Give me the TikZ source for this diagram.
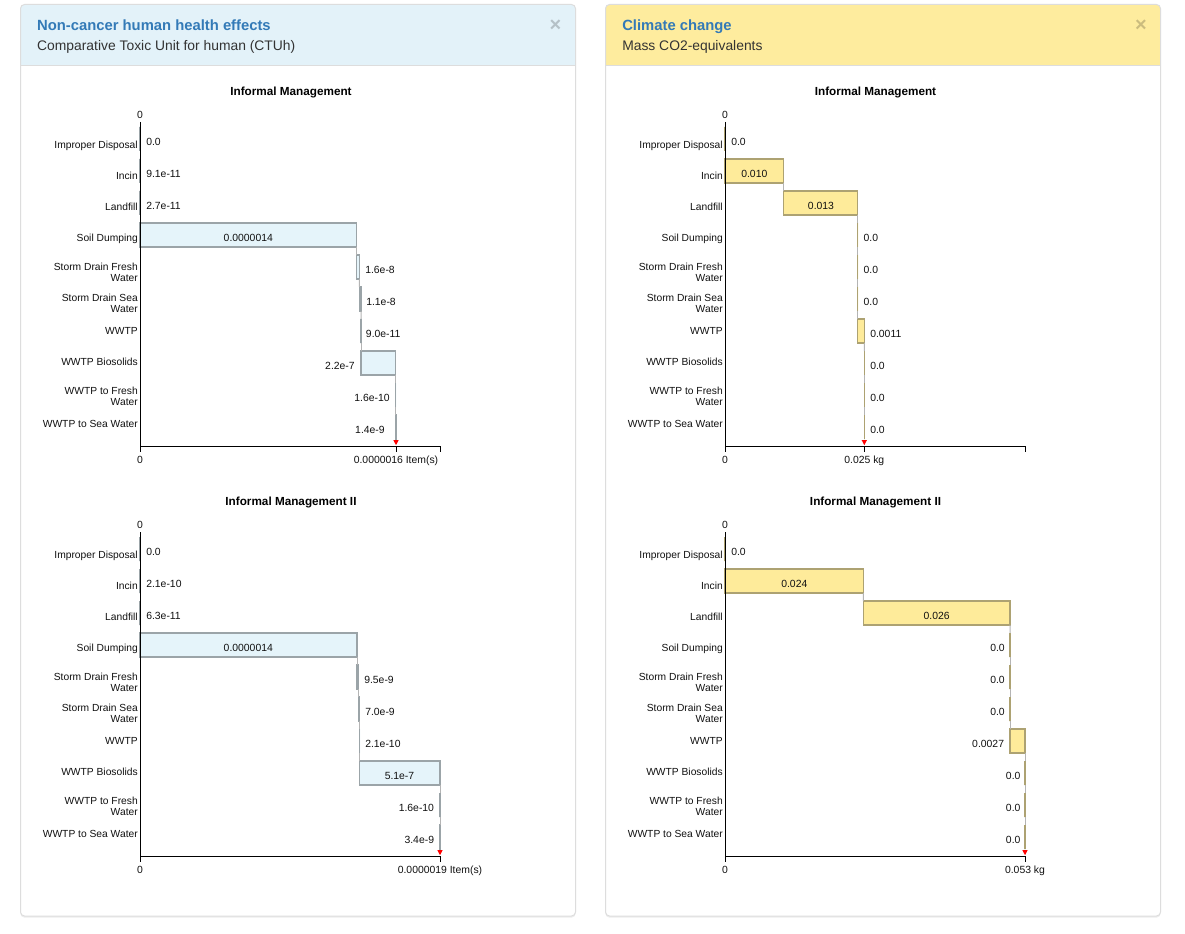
\documentclass[tikz,border=0pt]{standalone}
\usepackage{fontspec}
\setmainfont{Liberation Sans}
\definecolor{hdrblue}{HTML}{E3F2F9}
\definecolor{hdryel}{HTML}{FEEC9E}
\definecolor{ttlblue}{HTML}{337AB7}
\definecolor{subtxt}{HTML}{333333}
\definecolor{pbord}{HTML}{DDDDDD}
\definecolor{barLfill}{HTML}{E5F4FA}
\definecolor{barLdraw}{HTML}{9BA4A8}
\definecolor{barRfill}{HTML}{FEEB9A}
\definecolor{barRdraw}{HTML}{ADA272}
\definecolor{connc}{HTML}{B4B4B4}
\definecolor{lbltxt}{HTML}{111111}
\tikzset{
  cat/.style={font=\fontsize{7.7pt}{8.25pt}\selectfont, inner sep=0pt, text=lbltxt, align=right},
  val/.style={font=\fontsize{7.8pt}{9pt}\selectfont, inner sep=0pt, text=lbltxt},
  ctitle/.style={font=\bfseries\fontsize{8.8pt}{10pt}\selectfont, inner sep=0pt, text=black},
  ptitle/.style={font=\bfseries\fontsize{11.1pt}{13pt}\selectfont, inner sep=0pt, text=ttlblue},
  psub/.style={font=\fontsize{10.4pt}{12pt}\selectfont, inner sep=0pt, text=subtxt},
  pclose/.style={font=\bfseries\fontsize{15pt}{16pt}\selectfont, inner sep=0pt, text=black, text opacity=0.2},
  barL/.style={draw=barLdraw, fill=barLfill, line width=0.9pt, inner sep=0pt, outer sep=0pt, minimum height=18pt, anchor=north west},
  barR/.style={draw=barRdraw, fill=barRfill, line width=0.9pt, inner sep=0pt, outer sep=0pt, minimum height=18pt, anchor=north west},
  conn/.style={draw=connc, line width=0.75pt},
  axisln/.style={draw=black, line width=0.75pt},
}
% bar: name, style, x start, x end, row centre y
\newcommand{\wfbar}[5]{\node[#2, minimum width={(#4-(#3))*0.75pt}] (#1) at (#3,#5-12) {};}
% value label: name, anchor, x, y, text
\newcommand{\vlab}[5]{\node[val,anchor=#2] (#1) at (#3,#4) {#5};}
\newcommand{\catlabels}[1]{%
  \node[cat,anchor=base east] (#1k0) at (138,148.8) {Improper Disposal};
  \node[cat,anchor=base east] (#1k1) at (138,179.8) {Incin};
  \node[cat,anchor=base east] (#1k2) at (138,210.8) {Landfill};
  \node[cat,anchor=base east] (#1k3) at (138,241.8) {Soil Dumping};
  \node[cat,anchor=east] (#1k4) at (138,272) {Storm Drain Fresh\\Water};
  \node[cat,anchor=east] (#1k5) at (138,303) {Storm Drain Sea\\Water};
  \node[cat,anchor=base east] (#1k6) at (138,334.8) {WWTP};
  \node[cat,anchor=base east] (#1k7) at (138,365.8) {WWTP Biosolids};
  \node[cat,anchor=east] (#1k8) at (138,396) {WWTP to Fresh\\Water};
  \node[cat,anchor=base east] (#1k9) at (138,427.8) {WWTP to Sea Water};
}
\newcommand{\connectors}[1]{%
  \foreach \i [evaluate=\i as \j using int(\i+1)] in {0,...,8}
    {\draw[conn] (#1\i.south east) -- (#1\j.north west);}
}
\newcommand{\chartaxes}[3]{%
  \draw[axisln] (140,122) -- (140,446) -- (440,446);
  \draw[axisln] (140,446) -- (140,452) (#2,446) -- (#2,452) (440,446) -- (440,452);
  \node[val,anchor=base] (#1z0) at (140,118.5) {0};
  \node[val,anchor=base] (#1z1) at (140,463.2) {0};
  \node[val,anchor=base] (#1zt) at (#2,463.2) {#3};
  \fill[red] (#2-2.6,440.2) -- (#2+2.6,440.2) -- (#2,445.2) -- cycle;
}
\begin{document}
\begin{tikzpicture}[x=0.75pt,y=-0.75pt]
\useasboundingbox (0,0) rectangle (1185,934);
\fill[white] (0,0) rectangle (1185,934);

% ---------- panels ----------
\foreach \px/\hc in {20.5/hdrblue, 605.5/hdryel}{
  \fill[black!7, rounded corners=3pt] (\px,5.5) rectangle (\px+555,917.6);
  \fill[white, rounded corners=3pt] (\px,4.5) rectangle (\px+555,916);
  \fill[\hc, rounded corners=3pt] (\px,4.5) rectangle (\px+555,65.5);
  \fill[\hc] (\px,55) rectangle (\px+555,65.5);
  \draw[pbord, line width=0.75pt] (\px,65.5) -- (\px+555,65.5);
  \draw[pbord, line width=0.75pt, rounded corners=3pt] (\px,4.5) rectangle (\px+555,916);
}
\node[ptitle, anchor=base west] (t1) at (36.9,30.6) {Non-cancer human health effects};
\node[psub, anchor=base west] (s1) at (36.9,51) {Comparative Toxic Unit for human (CTUh)};
\node[pclose] (x1) at (555.5,25.5) {×};
\node[ptitle, anchor=base west] (t2) at (622,30.6) {Climate change};
\node[psub, anchor=base west] (s2) at (622,51) {Mass CO2-equivalents};
\node[pclose] (x2) at (1141,25.5) {×};

% ---------- top left ----------
\begin{scope}
\node[ctitle, anchor=base] (aT) at (291,95.5) {Informal Management};
\catlabels{a}
\wfbar{a0}{barL}{140}{140}{139}
\wfbar{a1}{barL}{140}{140}{171}
\wfbar{a2}{barL}{140}{140}{203}
\wfbar{a3}{barL}{140}{356.7}{235}
\wfbar{a4}{barL}{356.7}{359.3}{267}
\wfbar{a5}{barL}{359.3}{361}{299}
\wfbar{a6}{barL}{361}{361}{331}
\wfbar{a7}{barL}{361}{395.7}{363}
\wfbar{a8}{barL}{395.7}{395.7}{395}
\wfbar{a9}{barL}{395.7}{396}{427}
\connectors{a}
\vlab{av0}{base west}{146}{145.2}{0.0}
\vlab{av1}{base west}{146}{177.2}{9.1e-11}
\vlab{av2}{base west}{146}{209.2}{2.7e-11}
\vlab{av3}{base}{248.3}{241.2}{0.0000014}
\vlab{av4}{base west}{365}{273.2}{1.6e-8}
\vlab{av5}{base west}{366}{305.2}{1.1e-8}
\vlab{av6}{base west}{365.7}{337.2}{9.0e-11}
\vlab{av7}{base east}{355}{369.2}{2.2e-7}
\vlab{av8}{base east}{390}{401.2}{1.6e-10}
\vlab{av9}{base east}{385}{433.2}{1.4e-9}
\chartaxes{a}{396}{0.0000016 Item(s)}
\end{scope}

% ---------- top right ----------
\begin{scope}[shift={(585,0)}]
\node[ctitle, anchor=base] (bT) at (290.5,95.5) {Informal Management};
\catlabels{b}
\wfbar{b0}{barR}{140}{140}{139}
\wfbar{b1}{barR}{140}{198.7}{171}
\wfbar{b2}{barR}{198.7}{272.7}{203}
\wfbar{b3}{barR}{272.7}{272.7}{235}
\wfbar{b4}{barR}{272.7}{272.7}{267}
\wfbar{b5}{barR}{272.7}{272.7}{299}
\wfbar{b6}{barR}{272.7}{279.3}{331}
\wfbar{b7}{barR}{279.3}{279.3}{363}
\wfbar{b8}{barR}{279.3}{279.3}{395}
\wfbar{b9}{barR}{279.3}{279.3}{427}
\connectors{b}
\vlab{bv0}{base west}{146}{145.2}{0.0}
\vlab{bv1}{base}{169.3}{177.2}{0.010}
\vlab{bv2}{base}{236}{209.2}{0.013}
\vlab{bv3}{base west}{278.3}{241.2}{0.0}
\vlab{bv4}{base west}{278.3}{273.2}{0.0}
\vlab{bv5}{base west}{278.3}{305.2}{0.0}
\vlab{bv6}{base west}{285}{337.2}{0.0011}
\vlab{bv7}{base west}{285}{369.2}{0.0}
\vlab{bv8}{base west}{285}{401.2}{0.0}
\vlab{bv9}{base west}{285}{433.2}{0.0}
\chartaxes{b}{279.3}{0.025 kg}
\end{scope}

% ---------- bottom left ----------
\begin{scope}[shift={(0,410)}]
\node[ctitle, anchor=base] (cT) at (291,95.5) {Informal Management II};
\catlabels{c}
\wfbar{c0}{barL}{140}{140}{139}
\wfbar{c1}{barL}{140}{140}{171}
\wfbar{c2}{barL}{140}{140}{203}
\wfbar{c3}{barL}{140}{357}{235}
\wfbar{c4}{barL}{357}{358.5}{267}
\wfbar{c5}{barL}{358.5}{359.5}{299}
\wfbar{c6}{barL}{359.5}{359.5}{331}
\wfbar{c7}{barL}{359.5}{440}{363}
\wfbar{c8}{barL}{440}{440}{395}
\wfbar{c9}{barL}{440}{440.5}{427}
\connectors{c}
\vlab{cv0}{base west}{146}{145.2}{0.0}
\vlab{cv1}{base west}{146}{177.2}{2.1e-10}
\vlab{cv2}{base west}{146}{209.2}{6.3e-11}
\vlab{cv3}{base}{248.3}{241.2}{0.0000014}
\vlab{cv4}{base west}{364}{273.2}{9.5e-9}
\vlab{cv5}{base west}{365}{305.2}{7.0e-9}
\vlab{cv6}{base west}{365}{337.2}{2.1e-10}
\vlab{cv7}{base}{399.5}{369.2}{5.1e-7}
\vlab{cv8}{base east}{434.3}{401.2}{1.6e-10}
\vlab{cv9}{base east}{434.3}{433.2}{3.4e-9}
\chartaxes{c}{440}{0.0000019 Item(s)}
\end{scope}

% ---------- bottom right ----------
\begin{scope}[shift={(585,410)}]
\node[ctitle, anchor=base] (dT) at (290.5,95.5) {Informal Management II};
\catlabels{d}
\wfbar{d0}{barR}{140}{140}{139}
\wfbar{d1}{barR}{140}{278.3}{171}
\wfbar{d2}{barR}{278.3}{425}{203}
\wfbar{d3}{barR}{425}{425}{235}
\wfbar{d4}{barR}{425}{425}{267}
\wfbar{d5}{barR}{425}{425}{299}
\wfbar{d6}{barR}{425}{440}{331}
\wfbar{d7}{barR}{440}{440}{363}
\wfbar{d8}{barR}{440}{440}{395}
\wfbar{d9}{barR}{440}{440}{427}
\connectors{d}
\vlab{dv0}{base west}{146}{145.2}{0.0}
\vlab{dv1}{base}{209.3}{177.2}{0.024}
\vlab{dv2}{base}{351.7}{209.2}{0.026}
\vlab{dv3}{base east}{420}{241.2}{0.0}
\vlab{dv4}{base east}{420}{273.2}{0.0}
\vlab{dv5}{base east}{420}{305.2}{0.0}
\vlab{dv6}{base east}{419.3}{337.2}{0.0027}
\vlab{dv7}{base east}{435.7}{369.2}{0.0}
\vlab{dv8}{base east}{435.7}{401.2}{0.0}
\vlab{dv9}{base east}{435.7}{433.2}{0.0}
\chartaxes{d}{440}{0.053 kg}
\end{scope}
\end{tikzpicture}
\end{document}
